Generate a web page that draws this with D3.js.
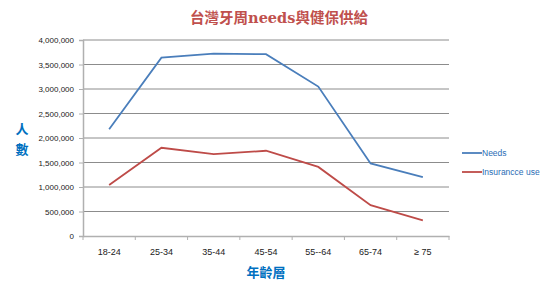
<!DOCTYPE html>
<html>
<head>
<meta charset="utf-8">
<script src="https://d3js.org/d3.v7.min.js"></script>
<style>
  body { margin: 0; background: #fff; }
  text { font-family: "Liberation Sans", "DejaVu Sans", sans-serif; }
</style>
</head>
<body>
<svg id="chart" width="554" height="282"></svg>
<script>
var ageGroups = ["18-24", "25-34", "35-44", "45-54", "55--64", "65-74", "\u2265 75"];
var needs = [2180000, 3640000, 3720000, 3710000, 3050000, 1480000, 1200000];
var insurance = [1040000, 1800000, 1670000, 1740000, 1410000, 630000, 320000];
var seriesNames = ["Needs", "Insurancce use"];
var yTicks = [0, 500000, 1000000, 1500000, 2000000, 2500000, 3000000, 3500000, 4000000];

var svg = d3.select("#chart");
var plotLeft = 83, plotRight = 449, plotTop = 40, plotBottom = 236;

var x = d3.scaleBand().domain(ageGroups).range([plotLeft, plotRight]);
var y = d3.scaleLinear().domain([0, 4000000]).range([plotBottom, plotTop]);

// gridlines
svg.append("g").selectAll("line")
    .data(yTicks.slice(1))
    .enter().append("line")
    .attr("x1", plotLeft).attr("x2", plotRight)
    .attr("y1", d => y(d)).attr("y2", d => y(d))
    .attr("stroke", "#8c8c8c").attr("stroke-width", 1);

// y axis
var yAxis = svg.append("g")
    .attr("transform", "translate(" + plotLeft + ",0)")
    .call(d3.axisLeft(y).tickValues(yTicks).tickFormat(d3.format(",")).tickSize(4).tickPadding(5));
yAxis.select(".domain").attr("stroke", "#b0b0b0").attr("stroke-width", 1.5);
yAxis.selectAll(".tick line").attr("stroke", "#b0b0b0");
yAxis.selectAll("text").style("font-size", "8px").attr("fill", "#222");

// x axis
var xAxis = svg.append("g")
    .attr("transform", "translate(0," + plotBottom + ")")
    .call(d3.axisBottom(x).tickSize(0).tickPadding(13));
xAxis.select(".domain").attr("stroke", "#b0b0b0").attr("stroke-width", 1.5);
xAxis.selectAll("text").style("font-size", "9px").attr("fill", "#222");
xAxis.selectAll(".sep")
    .data(d3.range(ageGroups.length + 1))
    .enter().append("line")
    .attr("x1", i => plotLeft + i * x.step()).attr("x2", i => plotLeft + i * x.step())
    .attr("y1", 0).attr("y2", 4)
    .attr("stroke", "#b0b0b0");

var line = d3.line()
    .x((d, i) => x(ageGroups[i]) + x.bandwidth() / 2)
    .y(d => y(d));

var colors = ["#4a7ebb", "#be4b48"];
[needs, insurance].forEach(function(s, k) {
  svg.append("path")
      .datum(s)
      .attr("d", line)
      .attr("fill", "none")
      .attr("stroke", colors[k])
      .attr("stroke-width", 1.8);
});

// legend
var legend = svg.append("g").selectAll("g")
    .data(seriesNames)
    .enter().append("g")
    .attr("transform", (d, i) => "translate(462," + (153 + i * 19) + ")");
legend.append("line")
    .attr("x1", 0).attr("x2", 20)
    .attr("stroke", (d, i) => colors[i]).attr("stroke-width", 1.8);
legend.append("text")
    .attr("x", 20).attr("dy", "0.35em")
    .style("font-size", "8.5px")
    .attr("fill", "#2a6db5")
    .text(d => d);

// title
svg.append("text")
    .attr("x", 279).attr("y", 23)
    .attr("text-anchor", "middle")
    .style("font-family", "'DejaVu Serif', 'Noto Sans CJK TC', serif")
    .style("font-size", "14.5px").style("font-weight", "bold")
    .attr("fill", "#c0504d")
    .text("台灣牙周needs與健保供給");

// axis titles
svg.append("text")
    .attr("x", 22).attr("y", 134)
    .attr("text-anchor", "middle")
    .style("font-family", "'Noto Sans CJK TC', sans-serif")
    .style("font-size", "13px").style("font-weight", "bold")
    .attr("fill", "#0070c0")
    .selectAll("tspan")
    .data(["人", "數"])
    .enter().append("tspan")
    .attr("x", 22).attr("dy", (d, i) => i ? "1.5em" : 0)
    .text(d => d);

svg.append("text")
    .attr("x", 266).attr("y", 277)
    .attr("text-anchor", "middle")
    .style("font-family", "'Noto Sans CJK TC', sans-serif")
    .style("font-size", "13px").style("font-weight", "bold")
    .attr("fill", "#0070c0")
    .text("年齡層");
</script>
</body>
</html>
